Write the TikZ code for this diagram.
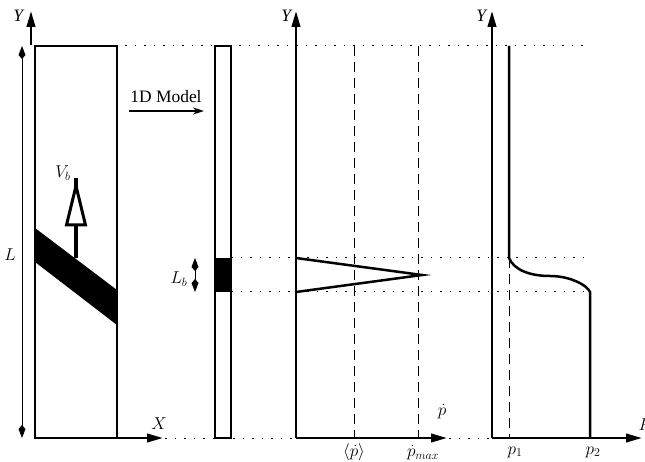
\documentclass[tikz,border=0pt]{standalone}
\usepackage{fontspec}
\setmainfont{Liberation Serif}
\usetikzlibrary{arrows.meta}
\begin{document}
\begin{tikzpicture}[x=1bp,y=-1bp,
  thickln/.style={line width=2.5bp},
  axis/.style={line width=2.5bp,-{Triangle[length=16bp,width=8.5bp]}},
  kitetip/.style={line width=1bp,-{Kite[length=13bp,width=7bp,inset=4bp]}},
  dotln/.style={line width=1bp,dash pattern=on 1.5bp off 8bp},
  dashln/.style={line width=1bp,dash pattern=on 10bp off 6bp},
  lbl/.style={font=\fontsize{17.5}{20}\selectfont,inner sep=0pt}]
\useasboundingbox (0,0) rectangle (645,462);
% left box
\draw[thickln] (35,46) rectangle (117,438);
\fill (35,228) -- (117,290) -- (117,325) -- (35,262) -- cycle;
% left Y axis
\coordinate (yl0) at (31,45); \coordinate (yl1) at (31,11);
\draw[axis] (yl0) -- (yl1);
\node[lbl] (Yl) at (19,16) {\textit{Y}};
% L arrow
\coordinate (La) at (22,46); \coordinate (Lb) at (22,438); \coordinate (Lm) at (22,250);
\draw[kitetip] (Lm) -- (La);
\draw[kitetip] (Lm) -- (Lb);
\node[lbl] (Ll) at (10,255) {$L$};
% Vb arrow
\coordinate (v0) at (76,258); \coordinate (v1) at (76,178);
\draw[line width=3.4bp] (v0) -- (v1);
\draw[line width=3bp,fill=white,line join=miter] (76,186) -- (85.5,225) -- (66.5,225) -- cycle;
\node[lbl] (Vb) at (63,173) {$V_b$};
% X axis
\coordinate (x0) at (117,438); \coordinate (x1) at (163,438);
\draw[axis] (x0) -- (x1);
\node[lbl] (Xl) at (159,424) {$X$};
% 1D model arrow
\coordinate (m0) at (129,111); \coordinate (m1) at (204,111);
\draw[line width=2.2bp,-{Stealth[length=11bp,width=7bp]}] (m0) -- (m1);
\node[lbl] (md) at (166,97) {1D Model};
% thin column
\draw[thickln] (215,46) rectangle (231,438);
\fill (215,258) rectangle (231,292);
\coordinate (lb0) at (195,258); \coordinate (lb1) at (195,292); \coordinate (lbm) at (195,275);
\draw[kitetip] (lbm) -- (lb0);
\draw[kitetip] (lbm) -- (lb1);
\node[lbl] (Lbl) at (179,279) {$L_b$};
% dotted lines
\draw[dotln] (125,46) -- (585,46);
\draw[dotln] (231,258) -- (588,258);
\draw[dotln] (231,292) -- (590,292);
\draw[dotln] (165,438) -- (215,438);
\draw[dotln] (233,438) -- (296,438);
\draw[dotln] (449,438) -- (492,438);
% middle plot
\coordinate (m2o) at (296,438);
\draw[axis] (m2o) -- (296,11);
\node[lbl] (Ym) at (287,16) {\textit{Y}};
\draw[axis] (m2o) -- (447,438);
\node[lbl] (pd) at (442,412) {$\dot p$};
\draw[dashln] (354,46) -- (354,438);
\draw[dashln] (418,46) -- (418,438);
\draw[line width=2.5bp,line join=miter] (296,258) -- (422,275) -- (296,292);
\node[lbl] (pav) at (354,452) {$\langle\dot p\rangle$};
\node[lbl] (pmax) at (423,453) {$\dot p_{max}$};
% right plot
\coordinate (m3o) at (492,438);
\draw[axis] (m3o) -- (492,11);
\node[lbl] (Yr) at (482,16) {\textit{Y}};
\draw[axis] (m3o) -- (642,438);
\node[lbl,anchor=west] (Pl) at (638.5,425) {$P$};
\draw[dashln] (509,258) -- (509,438);
\draw[line width=2.5bp] (509,46) -- (509,258)
   .. controls (514,270) and (530,276) .. (550,276)
   .. controls (570,276) and (587,285) .. (590,292) -- (590,438);
\node[lbl] (p1) at (515,452) {$p_1$};
\node[lbl] (p2) at (593,452) {$p_2$};
\end{tikzpicture}
\end{document}
